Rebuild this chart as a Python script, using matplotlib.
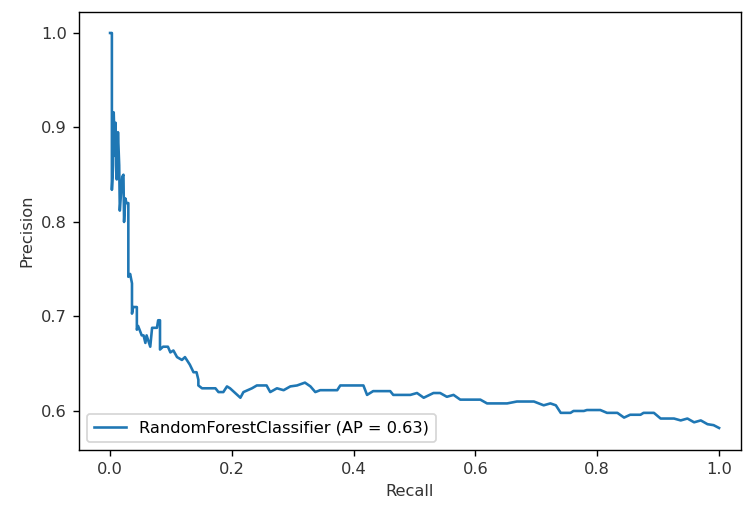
import matplotlib
matplotlib.use("Agg")
import matplotlib.pyplot as plt

recall = [0.000, 0.003, 0.003, 0.005, 0.006, 0.008, 0.009, 0.011, 0.013, 0.015,
          0.016, 0.018, 0.020, 0.022, 0.023, 0.025, 0.027, 0.030, 0.030, 0.033,
          0.036, 0.036, 0.038, 0.044, 0.044, 0.046, 0.052, 0.055, 0.058, 0.060,
          0.066, 0.069, 0.077, 0.079, 0.082, 0.082, 0.087, 0.095, 0.099, 0.104,
          0.110, 0.118, 0.123, 0.131, 0.137, 0.142, 0.145, 0.145, 0.151, 0.173,
          0.178, 0.186, 0.192, 0.197, 0.214, 0.219, 0.233, 0.241, 0.257, 0.263,
          0.274, 0.285, 0.296, 0.307, 0.320, 0.329, 0.337, 0.345, 0.373, 0.378,
          0.416, 0.422, 0.432, 0.460, 0.465, 0.493, 0.504, 0.515, 0.531, 0.542,
          0.553, 0.564, 0.575, 0.608, 0.619, 0.652, 0.668, 0.696, 0.712, 0.723,
          0.732, 0.740, 0.756, 0.761, 0.778, 0.783, 0.805, 0.816, 0.833, 0.844,
          0.854, 0.871, 0.876, 0.893, 0.904, 0.926, 0.937, 0.948, 0.959, 0.970,
          0.981, 0.991, 1.000]
precision = [1.000, 1.000, 0.834, 0.860, 0.916, 0.870, 0.905, 0.845, 0.895, 0.860,
             0.812, 0.830, 0.848, 0.850, 0.800, 0.825, 0.820, 0.820, 0.742, 0.745,
             0.735, 0.703, 0.710, 0.710, 0.686, 0.690, 0.680, 0.680, 0.672, 0.680,
             0.668, 0.688, 0.688, 0.696, 0.696, 0.665, 0.668, 0.668, 0.662, 0.664,
             0.657, 0.654, 0.657, 0.649, 0.641, 0.641, 0.633, 0.627, 0.624, 0.624,
             0.620, 0.620, 0.626, 0.624, 0.614, 0.620, 0.624, 0.627, 0.627, 0.620,
             0.624, 0.622, 0.626, 0.627, 0.630, 0.626, 0.620, 0.622, 0.622, 0.627,
             0.627, 0.617, 0.621, 0.621, 0.617, 0.617, 0.619, 0.614, 0.619, 0.619,
             0.615, 0.617, 0.612, 0.612, 0.608, 0.608, 0.610, 0.610, 0.606, 0.608,
             0.606, 0.598, 0.598, 0.600, 0.600, 0.601, 0.601, 0.598, 0.598, 0.593,
             0.596, 0.596, 0.598, 0.598, 0.592, 0.592, 0.590, 0.592, 0.588, 0.590,
             0.586, 0.585, 0.582]
label = "RandomForestClassifier (AP = 0.63)"

plt.rcParams["font.size"] = 9.4
dpi = 125
fig = plt.figure(figsize=(745 / dpi, 509 / dpi), dpi=dpi)
ax = fig.add_axes([79 / 745, 1 - 450 / 509, (741 - 79) / 745, (450 - 12) / 509])
ax.plot(recall, precision, color="#1f77b4", lw=1.5, label=label)
ax.set_xlim(-0.051, 1.036)
ax.set_ylim(0.5587, 1.0222)
ax.set_xticks([0.0, 0.2, 0.4, 0.6, 0.8, 1.0])
ax.set_yticks([0.6, 0.7, 0.8, 0.9, 1.0])
ax.tick_params(labelcolor="#333333")
ax.set_xlabel("Recall", color="#333333")
ax.set_ylabel("Precision", color="#333333")
ax.legend(loc="lower left")
fig.savefig("out.png", dpi=dpi)
